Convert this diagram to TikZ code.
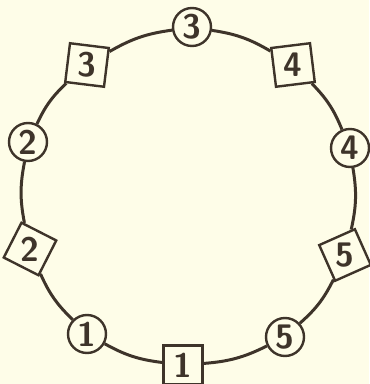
\documentclass[tikz,border=0pt]{standalone}
\usepackage{tikz}
\usetikzlibrary{shapes.geometric}
\definecolor{paper}{RGB}{254,253,232}
\definecolor{ink}{RGB}{62,52,42}

\begin{document}
\begin{tikzpicture}[
  x=0.5pt, y=-0.5pt,
  ring/.style={circle, draw=ink, text=ink, line width=1.2pt, fill=paper, minimum size=19pt, inner sep=0pt},
  box/.style={regular polygon, regular polygon sides=4, draw=ink, text=ink, line width=1.2pt, fill=paper, minimum size=27.6pt, inner sep=0pt},
  link/.style={draw=ink, line width=1.5pt, bend left=11},
  font=\sffamily\bfseries\fontsize{17}{17}\selectfont
]
\fill[paper] (0,0) rectangle (369,384);
\useasboundingbox (0,0) rectangle (369,384);

% numbered stations round the ring
\node[ring] (c3) at (192,27) {3};
\node[box, shape border rotate=7] (s4) at (293,65) {4};
\node[ring] (c4) at (350,148) {4};
\node[box, shape border rotate=24] (s5) at (345,255) {5};
\node[ring] (c5) at (285,337) {5};
\node[box] (s1) at (183,365) {1};
\node[ring] (c1) at (87,334) {1};
\node[box, shape border rotate=-27] (s2) at (30,249) {2};
\node[ring] (c2) at (28,142) {2};
\node[box, shape border rotate=-7] (s3) at (87,65) {3};

\draw[link] (c3) to (s4);
\draw[link] (s4) to (c4);
\draw[link] (c4) to (s5);
\draw[link] (s5) to (c5);
\draw[link] (c5) to (s1);
\draw[link] (s1) to (c1);
\draw[link] (c1) to (s2);
\draw[link] (s2) to (c2);
\draw[link] (c2) to (s3);
\draw[link] (s3) to (c3);
\end{tikzpicture}
\end{document}
